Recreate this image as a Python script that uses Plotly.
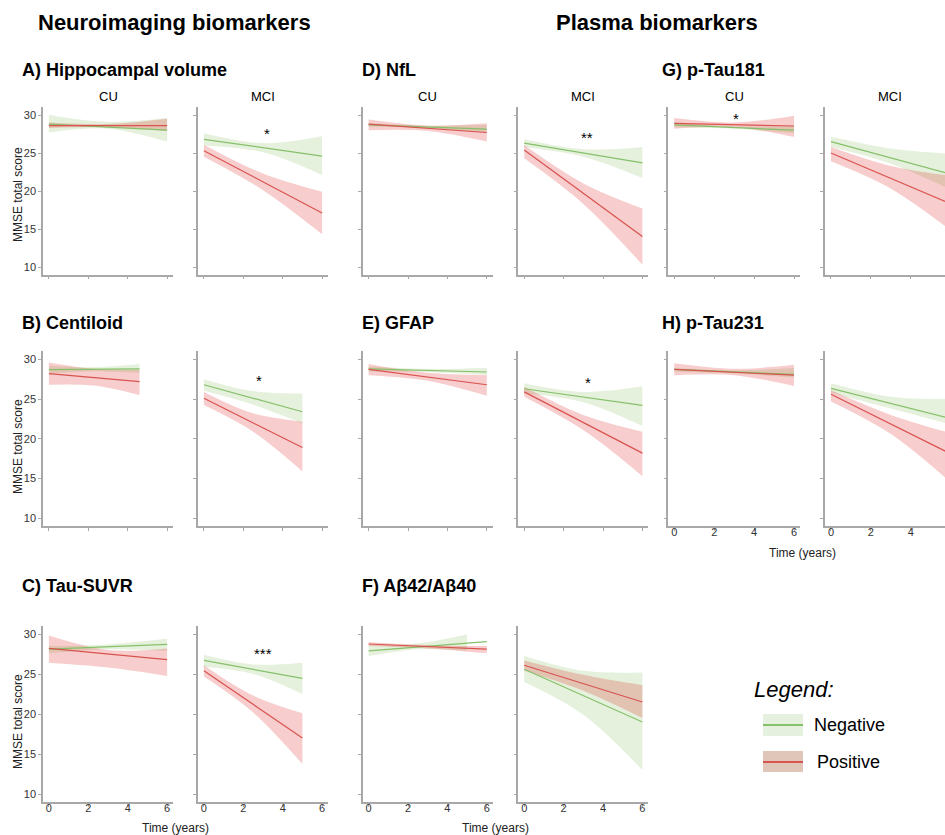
import plotly.graph_objects as go

W, H = 945, 835

# ---------------- DATA ----------------
# each group: line time/fit, ribbon time/lower/upper  (MMSE total score)
hippo_cu_neg = dict(t=[0, 3, 6], fit=[28.8, 28.4, 28.0], rt=[0, 3, 6], lo=[27.7, 28.2, 26.5], hi=[30.0, 29.1, 29.6])
hippo_cu_pos = dict(t=[0, 3, 6], fit=[28.6, 28.6, 28.6], rt=[0, 3, 6], lo=[28.3, 28.4, 27.9], hi=[29.0, 28.8, 29.5])
hippo_mci_neg = dict(t=[0, 3, 6], fit=[26.8, 25.7, 24.6], rt=[0, 3, 6], lo=[26.0, 25.1, 22.1], hi=[27.6, 26.3, 27.2])
hippo_mci_pos = dict(t=[0, 3, 6], fit=[25.3, 21.2, 17.1], rt=[0, 3, 6], lo=[24.5, 20.1, 14.3], hi=[26.1, 22.3, 19.9])

nfl_cu_neg = dict(t=[0, 3, 6], fit=[28.7, 28.45, 28.15], rt=[0, 3, 6], lo=[28.5, 28.3, 27.6], hi=[28.9, 28.6, 28.7])
nfl_cu_pos = dict(t=[0, 3, 6], fit=[28.8, 28.25, 27.7], rt=[0, 3, 6], lo=[28.0, 27.9, 26.5], hi=[29.4, 28.6, 28.9])
nfl_mci_neg = dict(t=[0, 3, 6], fit=[26.3, 25.0, 23.7], rt=[0, 3, 6], lo=[25.8, 24.5, 21.7], hi=[26.8, 25.5, 25.8])
nfl_mci_pos = dict(t=[0, 3, 6], fit=[25.4, 19.7, 14.0], rt=[0, 3, 6], lo=[24.3, 18.3, 10.3], hi=[26.05, 21.0, 17.7])

ptau181_cu_neg = dict(t=[0, 3, 6], fit=[28.7, 28.35, 28.0], rt=[0, 3, 6], lo=[28.4, 28.2, 27.6], hi=[29.0, 28.5, 28.55])
ptau181_cu_pos = dict(t=[0, 3, 6], fit=[28.9, 28.7, 28.55], rt=[0, 3, 6], lo=[28.2, 28.4, 27.1], hi=[29.6, 29.0, 29.9])
ptau181_mci_neg = dict(t=[0, 3, 6], fit=[26.5, 24.35, 22.2], rt=[0, 3, 6], lo=[25.8, 23.6, 20.2], hi=[27.15, 25.6, 24.9])
ptau181_mci_pos = dict(t=[0, 3, 6], fit=[25.0, 21.65, 18.3], rt=[0, 3, 6], lo=[23.9, 20.3, 14.8], hi=[25.8, 23.3, 22.0])

centiloid_cu_neg = dict(t=[0, 2.3, 4.6], fit=[28.7, 28.75, 28.8], rt=[0, 2.3, 4.6], lo=[28.2, 28.5, 28.3], hi=[29.2, 29.0, 29.4])
centiloid_cu_pos = dict(t=[0, 2.3, 4.6], fit=[28.2, 27.7, 27.2], rt=[0, 2.3, 4.6], lo=[26.8, 26.7, 25.5], hi=[29.6, 28.8, 28.7])
centiloid_mci_neg = dict(t=[0, 2.5, 5], fit=[26.8, 25.1, 23.4], rt=[0, 2.5, 5], lo=[26.05, 24.3, 21.95], hi=[27.5, 26.0, 25.7])
centiloid_mci_pos = dict(t=[0, 2.5, 5], fit=[25.1, 22.0, 18.9], rt=[0, 2.5, 5], lo=[24.25, 20.9, 15.9], hi=[25.9, 23.2, 22.15])

gfap_cu_neg = dict(t=[0, 3, 6], fit=[28.8, 28.6, 28.4], rt=[0, 3, 6], lo=[28.45, 28.4, 28.0], hi=[29.1, 28.8, 28.9])
gfap_cu_pos = dict(t=[0, 3, 6], fit=[28.74, 27.8, 26.8], rt=[0, 3, 6], lo=[28.0, 27.3, 25.4], hi=[29.4, 28.3, 28.0])
gfap_mci_neg = dict(t=[0, 3, 6], fit=[26.3, 25.25, 24.2], rt=[0, 3, 6], lo=[25.7, 24.6, 21.6], hi=[27.0, 25.9, 26.6])
gfap_mci_pos = dict(t=[0, 3, 6], fit=[25.9, 22.05, 18.2], rt=[0, 3, 6], lo=[25.3, 21.1, 15.3], hi=[26.56, 23.0, 20.9])

ptau231_cu_neg = dict(t=[0, 3, 6], fit=[28.74, 28.4, 28.1], rt=[0, 3, 6], lo=[28.45, 28.2, 27.7], hi=[28.9, 28.6, 28.9])
ptau231_cu_pos = dict(t=[0, 3, 6], fit=[28.74, 28.35, 28.0], rt=[0, 3, 6], lo=[28.0, 28.0, 26.65], hi=[29.5, 28.8, 29.3])
ptau231_mci_neg = dict(t=[0, 3, 6], fit=[26.35, 24.45, 22.55], rt=[0, 3, 6], lo=[25.8, 23.8, 21.8], hi=[27.0, 25.3, 25.0])
ptau231_mci_pos = dict(t=[0, 3, 6], fit=[25.6, 21.85, 18.1], rt=[0, 3, 6], lo=[24.7, 20.6, 14.5], hi=[26.1, 23.0, 20.7])

tau_cu_neg = dict(t=[0, 3, 6], fit=[28.1, 28.4, 28.7], rt=[0, 3, 6], lo=[27.6, 28.1, 27.9], hi=[28.5, 28.7, 29.4])
tau_cu_pos = dict(t=[0, 3, 6], fit=[28.2, 27.5, 26.8], rt=[0, 3, 6], lo=[26.4, 25.8, 24.75], hi=[29.8, 28.0, 28.2])
tau_mci_neg = dict(t=[0, 2.5, 5], fit=[26.7, 25.6, 24.45], rt=[0, 2.5, 5], lo=[25.9, 25.0, 22.5], hi=[27.4, 26.2, 26.4])
tau_mci_pos = dict(t=[0, 2.5, 5], fit=[25.4, 21.2, 17.0], rt=[0, 2.5, 5], lo=[24.7, 20.2, 13.75], hi=[26.1, 22.3, 20.1])

abeta_cu_neg = dict(t=[0, 3, 6], fit=[27.9, 28.5, 29.05], rt=[0, 2.5, 5], lo=[27.25, 28.1, 27.9], hi=[28.6, 28.8, 29.96])
abeta_cu_pos = dict(t=[0, 3, 6], fit=[28.75, 28.4, 28.1], rt=[0, 3, 6], lo=[28.5, 28.2, 27.6], hi=[28.96, 28.6, 28.5])
abeta_mci_neg = dict(t=[0, 3, 6], fit=[25.6, 22.3, 19.0], rt=[0, 3, 6], lo=[24.0, 19.9, 13.0], hi=[27.25, 25.4, 25.2])
abeta_mci_pos = dict(t=[0, 3, 6], fit=[26.1, 23.8, 21.5], rt=[0, 3, 6], lo=[25.4, 22.9, 19.5], hi=[26.7, 24.9, 23.6])

panel_titles = ["A) Hippocampal volume", "B) Centiloid", "C) Tau-SUVR",
                "D) NfL", "E) GFAP", "F) A\u03b242/A\u03b240",
                "G) p-Tau181", "H) p-Tau231"]
facet_labels = ["CU", "MCI"]
x_ticks = [0, 2, 4, 6]
y_ticks = [10, 15, 20, 25, 30]
group_names = ["Negative", "Positive"]
# significance marks: (panel key, time, score, label)
signif = [("A_MCI", 3.2, 27.6, "*"), ("D_MCI", 3.2, 27.0, "**"), ("G_CU", 3.1, 29.5, "*"),
          ("B_MCI", 2.8, 27.3, "*"), ("E_MCI", 3.25, 27.1, "*"), ("C_MCI", 3.0, 27.6, "***")]

# ---------------- STYLE / LAYOUT ----------------
FONT = "Liberation Sans"
NEG_LINE, POS_LINE = "#86c06a", "#d9534f"
NEG_FILL, POS_FILL = "rgba(125,185,80,0.2)", "rgba(215,20,20,0.21)"
AX = "#a8a8a8"

def px(x): return x / W
def py(y): return 1 - y / H

cols = {1: (43, 173), 2: (198, 328), 3: (362.7, 492.7), 4: (518.3, 648.3), 5: (668.3, 800), 6: (825, 945)}
rows = {1: (107.4, 274.6), 2: (351.35, 526.25), 3: (626, 802)}

# key, col, row, neg, pos, show x labels, show y labels, xmax
panels = [
    ("A_CU", 1, 1, hippo_cu_neg, hippo_cu_pos, False, True, 6.3),
    ("A_MCI", 2, 1, hippo_mci_neg, hippo_mci_pos, False, False, 6.3),
    ("D_CU", 3, 1, nfl_cu_neg, nfl_cu_pos, False, False, 6.3),
    ("D_MCI", 4, 1, nfl_mci_neg, nfl_mci_pos, False, False, 6.3),
    ("G_CU", 5, 1, ptau181_cu_neg, ptau181_cu_pos, False, False, 6.3),
    ("G_MCI", 6, 1, ptau181_mci_neg, ptau181_mci_pos, False, False, 5.71),
    ("B_CU", 1, 2, centiloid_cu_neg, centiloid_cu_pos, False, True, 6.3),
    ("B_MCI", 2, 2, centiloid_mci_neg, centiloid_mci_pos, False, False, 6.3),
    ("E_CU", 3, 2, gfap_cu_neg, gfap_cu_pos, False, False, 6.3),
    ("E_MCI", 4, 2, gfap_mci_neg, gfap_mci_pos, False, False, 6.3),
    ("H_CU", 5, 2, ptau231_cu_neg, ptau231_cu_pos, True, False, 6.3),
    ("H_MCI", 6, 2, ptau231_mci_neg, ptau231_mci_pos, True, False, 5.71),
    ("C_CU", 1, 3, tau_cu_neg, tau_cu_pos, True, True, 6.3),
    ("C_MCI", 2, 3, tau_mci_neg, tau_mci_pos, True, False, 6.3),
    ("F_CU", 3, 3, abeta_cu_neg, abeta_cu_pos, True, False, 6.3),
    ("F_MCI", 4, 3, abeta_mci_neg, abeta_mci_pos, True, False, 6.3),
]

fig = go.Figure()
layout = {}
axis_ids = {}
for i, (key, c, r, neg, pos, xl, yl, xmax) in enumerate(panels):
    n = i + 1
    xa, ya = f"x{n}" if n > 1 else "x", f"y{n}" if n > 1 else "y"
    axis_ids[key] = (xa, ya)
    xname, yname = f"xaxis{n}" if n > 1 else "xaxis", f"yaxis{n}" if n > 1 else "yaxis"
    x0, x1 = cols[c]
    y0, y1 = rows[r]
    common = dict(showline=True, linecolor=AX, linewidth=1.5, ticks="outside", ticklen=3,
                  tickcolor=AX, tickwidth=1, showgrid=False, zeroline=False,
                  tickfont=dict(family=FONT, size=11, color="#333333"))
    layout[xname] = dict(domain=[px(x0), px(x1)], range=[-0.3, xmax], anchor=ya,
                         tickvals=x_ticks, showticklabels=xl, ticklabelstandoff=-8, **common)
    layout[yname] = dict(domain=[py(y1), py(y0)], range=[9, 31], anchor=xa,
                         tickvals=y_ticks, showticklabels=yl, **common)
    for grp, fill in ((neg, NEG_FILL), (pos, POS_FILL)):
        fig.add_trace(go.Scatter(x=grp["rt"], y=grp["lo"], xaxis=xa, yaxis=ya, mode="lines",
                                 line=dict(width=0, shape="spline", smoothing=1), showlegend=False,
                                 hoverinfo="skip"))
        fig.add_trace(go.Scatter(x=grp["rt"], y=grp["hi"], xaxis=xa, yaxis=ya, mode="lines",
                                 line=dict(width=0, shape="spline", smoothing=1), fill="tonexty",
                                 fillcolor=fill, showlegend=False, hoverinfo="skip"))
    for grp, lc, name in ((neg, NEG_LINE, group_names[0]), (pos, POS_LINE, group_names[1])):
        fig.add_trace(go.Scatter(x=grp["t"], y=grp["fit"], xaxis=xa, yaxis=ya, mode="lines",
                                 line=dict(color=lc, width=1.2), name=name, showlegend=False))

ann = []
def text(x, y, s, size, bold=False, italic=False, xanchor="center", color="#000000"):
    t = f"<b>{s}</b>" if bold else s
    t = f"<i>{t}</i>" if italic else t
    ann.append(dict(x=px(x), y=py(y), xref="paper", yref="paper", text=t, showarrow=False,
                    xanchor=xanchor, yanchor="middle", font=dict(family=FONT, size=size, color=color)))

text(174, 23, "Neuroimaging biomarkers", 22, bold=True)
text(657, 23, "Plasma biomarkers", 22, bold=True)
title_pos = [(20, 70), (20, 323), (20, 586), (360, 70), (360, 323), (360, 586), (660, 70), (660, 323)]
for s, (x, y) in zip(panel_titles, title_pos):
    text(x, y, s, 18, bold=True, xanchor="left")
for c in (1, 3, 5):
    text(sum(cols[c]) / 2, 97, facet_labels[0], 13)
    cx = sum(cols[c + 1]) / 2 if c + 1 != 6 else 890
    text(cx, 97, facet_labels[1], 13)
for yc in (195, 447, 722):
    ann.append(dict(x=px(18), y=py(yc), xref="paper", yref="paper", text="MMSE total score",
                    showarrow=False, textangle=-90, xanchor="center", yanchor="middle",
                    font=dict(family=FONT, size=12, color="#222222")))
for x, y in ((175, 828), (496, 828), (802, 553)):
    text(x, y, "Time (years)", 12, color="#222222")

for key, tx, ty, s in signif:
    xa, ya = axis_ids[key]
    ann.append(dict(x=tx, y=ty, xref=xa, yref=ya, text=s, showarrow=False,
                    font=dict(family=FONT, size=15, color="#000000")))

# legend
text(752, 689, "Legend:", 22, italic=True, xanchor="left")
text(812, 725, group_names[0], 18, xanchor="left")
text(815, 762, group_names[1], 18, xanchor="left")
shapes = [
    dict(type="rect", xref="paper", yref="paper", x0=px(763), x1=px(803), y0=py(736), y1=py(714),
         fillcolor="#e6f0de", line=dict(width=0)),
    dict(type="line", xref="paper", yref="paper", x0=px(763), x1=px(803), y0=py(725), y1=py(725),
         line=dict(color=NEG_LINE, width=2)),
    dict(type="rect", xref="paper", yref="paper", x0=px(763), x1=px(803), y0=py(772), y1=py(751),
         fillcolor="#dfc6b8", line=dict(width=0)),
    dict(type="line", xref="paper", yref="paper", x0=px(763), x1=px(803), y0=py(762), y1=py(762),
         line=dict(color=POS_LINE, width=2)),
]

fig.update_layout(width=W, height=H, margin=dict(l=0, r=0, t=0, b=0),
                  paper_bgcolor="white", plot_bgcolor="white", showlegend=False,
                  annotations=ann, shapes=shapes, font=dict(family=FONT), **layout)
fig.write_html("out.html", config={"displayModeBar": False},
               post_script="document.body.style.margin='0';document.body.style.padding='0';document.body.style.overflow='hidden';")
